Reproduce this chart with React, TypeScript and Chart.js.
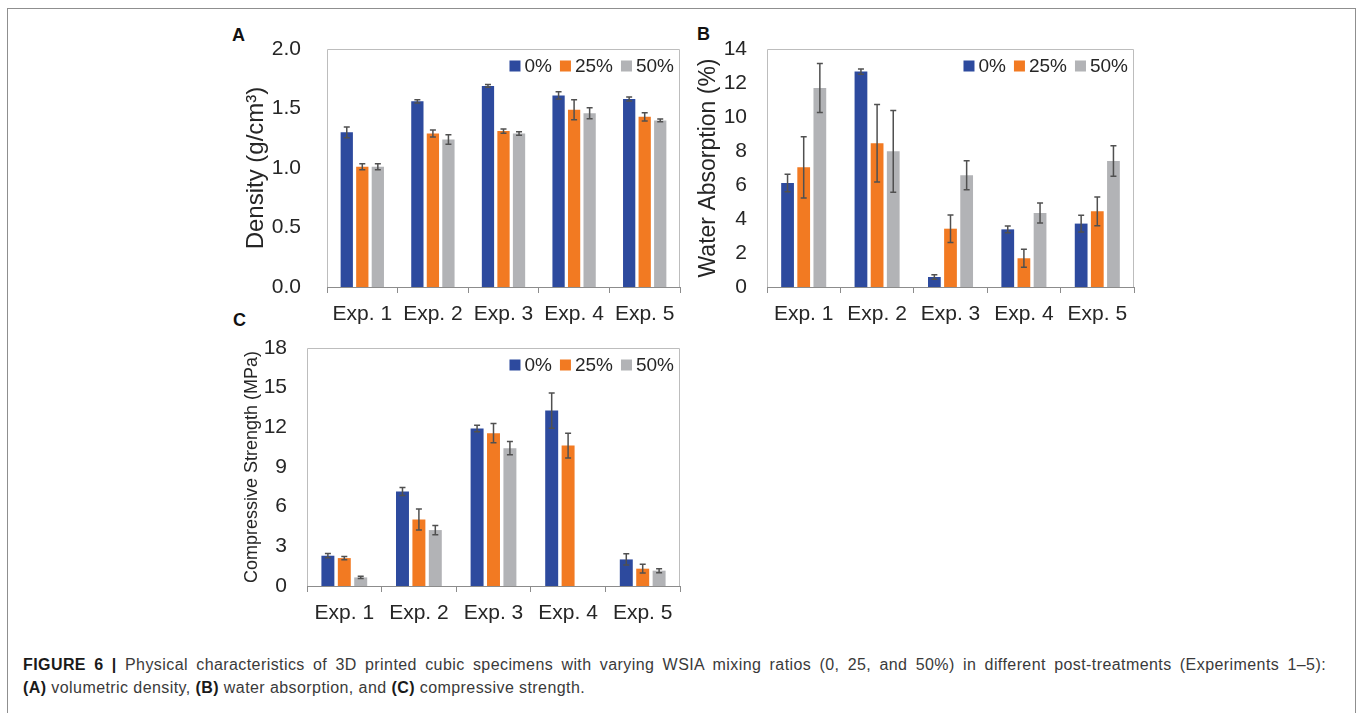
import React, { useEffect, useRef } from "react";
import { Chart, registerables } from "chart.js";

Chart.register(...registerables);

const FONT = "Arial, 'Liberation Sans', Helvetica, sans-serif";

// ---------- data ----------
const categories = ["Exp. 1", "Exp. 2", "Exp. 3", "Exp. 4", "Exp. 5"];
const seriesLabels = ["0%", "25%", "50%"];
const seriesColors = ["#2D4A9E", "#F27A22", "#B2B3B6"];

// (A) volumetric density (g/cm3)
const density0 = [1.3, 1.56, 1.69, 1.61, 1.58];
const density25 = [1.01, 1.29, 1.31, 1.49, 1.43];
const density50 = [1.01, 1.24, 1.29, 1.46, 1.4];
const densityErr0 = [0.045, 0.014, 0.012, 0.03, 0.017];
const densityErr25 = [0.025, 0.03, 0.018, 0.084, 0.034];
const densityErr50 = [0.025, 0.04, 0.014, 0.046, 0.011];
const densityMax = 2.0;
const densityStep = 0.5;

// (B) water absorption (%)
const water0 = [6.12, 12.67, 0.59, 3.39, 3.73];
const water25 = [7.04, 8.45, 3.43, 1.69, 4.45];
const water50 = [11.7, 7.98, 6.57, 4.35, 7.41];
const waterErr0 = [0.51, 0.16, 0.13, 0.2, 0.49];
const waterErr25 = [1.8, 2.28, 0.81, 0.53, 0.85];
const waterErr50 = [1.44, 2.4, 0.85, 0.59, 0.9];
const waterMax = 14;
const waterStep = 2;

// (C) compressive strength (MPa)
const strength0 = [2.29, 7.15, 11.91, 13.27, 2.01];
const strength25 = [2.11, 5.03, 11.56, 10.62, 1.31];
const strength50 = [0.65, 4.23, 10.42, null, 1.16];
const strengthErr0 = [0.16, 0.3, 0.25, 1.33, 0.42];
const strengthErr25 = [0.13, 0.79, 0.73, 0.93, 0.33];
const strengthErr50 = [0.09, 0.35, 0.5, null, 0.15];
const strengthMax = 18;
const strengthStep = 3;

// ---------- plugins ----------
const plotFramePlugin = {
  id: "plotFrame",
  beforeDatasetsDraw(chart: any) {
    const { ctx, chartArea: a } = chart;
    ctx.save();
    ctx.strokeStyle = "#BDBDBD";
    ctx.lineWidth = 1;
    ctx.beginPath();
    ctx.moveTo(a.left + 0.5, a.bottom);
    ctx.lineTo(a.left + 0.5, a.top + 0.5);
    ctx.lineTo(a.right - 0.5, a.top + 0.5);
    ctx.lineTo(a.right - 0.5, a.bottom);
    ctx.stroke();
    ctx.restore();
  },
};

const errorBarPlugin = {
  id: "errorBars",
  afterDatasetsDraw(chart: any) {
    const { ctx } = chart;
    const ys = chart.scales.y;
    ctx.save();
    ctx.strokeStyle = "#505050";
    ctx.lineWidth = 1.5;
    chart.data.datasets.forEach((ds: any, di: number) => {
      const meta = chart.getDatasetMeta(di);
      meta.data.forEach((bar: any, i: number) => {
        const v = ds.data[i];
        const e = ds.errors ? ds.errors[i] : null;
        if (v == null || e == null) return;
        const x = bar.x;
        const yt = ys.getPixelForValue(v + e);
        const yb = ys.getPixelForValue(v - e);
        ctx.beginPath();
        ctx.moveTo(x, yt);
        ctx.lineTo(x, yb);
        ctx.moveTo(x - 3, yt);
        ctx.lineTo(x + 3, yt);
        ctx.moveTo(x - 3, yb);
        ctx.lineTo(x + 3, yb);
        ctx.stroke();
      });
    });
    ctx.restore();
  },
};

const boxLegendPlugin = {
  id: "boxLegend",
  afterDraw(chart: any) {
    const { ctx, chartArea: a } = chart;
    const ds = chart.data.datasets;
    ctx.save();
    ctx.font = `19px ${FONT}`;
    ctx.textBaseline = "middle";
    ctx.textAlign = "left";
    const box = 11;
    const gapText = 4;
    const gapItem = 8;
    const widths = ds.map((d: any) => ctx.measureText(d.label).width);
    let total = gapItem * (ds.length - 1);
    widths.forEach((w: number) => (total += box + gapText + w));
    let x = a.right - 6 - total;
    const cy = a.top + 17;
    ds.forEach((d: any, i: number) => {
      ctx.fillStyle = d.backgroundColor;
      ctx.fillRect(x, cy - box / 2, box, box);
      x += box + gapText;
      ctx.fillStyle = "#262626";
      ctx.fillText(d.label, x, cy + 1);
      x += widths[i] + gapItem;
    });
    ctx.restore();
  },
};

// ---------- panel ----------
type PanelProps = {
  left: number;
  top: number;
  width: number;
  height: number;
  padTop: number;
  padRight: number;
  yWidth: number;
  xHeight: number;
  yTitle: string;
  yTitleSize: number;
  yTitlePad: number;
  yTickGap: number;
  yMax: number;
  yStep: number;
  decimals: number;
  values: (number | null)[][];
  errors: (number | null)[][];
};

function Panel(p: PanelProps) {
  const ref = useRef<HTMLCanvasElement>(null);
  useEffect(() => {
    const chart = new Chart(ref.current as HTMLCanvasElement, {
      type: "bar",
      data: {
        labels: categories,
        datasets: seriesLabels.map((label, i) => ({
          label,
          data: p.values[i],
          errors: p.errors[i],
          backgroundColor: seriesColors[i],
          borderWidth: 0,
          barPercentage: 0.79,
          categoryPercentage: 0.66,
        })) as any,
      },
      options: {
        responsive: false,
        animation: false,
        devicePixelRatio: 1,
        layout: { padding: { top: p.padTop, right: p.padRight, left: 0, bottom: 0 } },
        plugins: {
          legend: { display: false },
          tooltip: { enabled: false },
          title: { display: false },
        },
        scales: {
          x: {
            grid: {
              display: true,
              drawOnChartArea: false,
              drawTicks: true,
              tickLength: 6,
              color: "#8C8C8C",
              offset: true,
            },
            border: { display: true, color: "#8C8C8C", width: 1 },
            ticks: {
              font: { size: 21, family: FONT },
              color: "#262626",
              padding: 9,
              maxRotation: 0,
              autoSkip: false,
            },
            afterFit: (s: any) => {
              s.height = p.xHeight;
            },
          },
          y: {
            min: 0,
            max: p.yMax,
            grid: { display: false, drawTicks: true, tickLength: p.yTickGap - 2 },
            border: { display: false },
            ticks: {
              stepSize: p.yStep,
              font: { size: 21, family: FONT },
              color: "#262626",
              padding: 2,
              callback: (v: any) => Number(v).toFixed(p.decimals),
            },
            title: {
              display: true,
              text: p.yTitle,
              font: { size: p.yTitleSize, family: FONT },
              color: "#262626",
              padding: { top: p.yTitlePad, bottom: 0 },
            },
            afterFit: (s: any) => {
              s.width = p.yWidth;
            },
          },
        },
      } as any,
      plugins: [plotFramePlugin, errorBarPlugin, boxLegendPlugin],
    });
    return () => chart.destroy();
  }, []);
  return (
    <canvas
      ref={ref}
      width={p.width}
      height={p.height}
      style={{ position: "absolute", left: p.left, top: p.top, width: p.width, height: p.height }}
    />
  );
}

const letterStyle = (left: number, top: number): React.CSSProperties => ({
  position: "absolute",
  left,
  top,
  font: `bold 18px ${FONT}`,
  lineHeight: "18px",
  color: "#111",
});

const boldStyle: React.CSSProperties = { color: "#1a1a1a" };

export default function App() {
  return (
    <div
      style={{
        position: "absolute",
        left: 0,
        top: 0,
        width: 1360,
        height: 713,
        overflow: "hidden",
        background: "#fff",
        fontFamily: FONT,
      }}
    >
      <div
        style={{
          position: "absolute",
          left: 7,
          top: 8,
          width: 1349,
          height: 705,
          boxSizing: "border-box",
          borderTop: "1px solid #8f8f8f",
          borderLeft: "1px solid #8f8f8f",
          borderRight: "1px solid #8f8f8f",
        }}
      />
      <div style={letterStyle(232, 26)}>A</div>
      <div style={letterStyle(697, 25)}>B</div>
      <div style={letterStyle(233, 311)}>C</div>

      <Panel
        left={220}
        top={20}
        width={470}
        height={310}
        padTop={29}
        padRight={10}
        yWidth={107}
        xHeight={43}
        yTitle="Density (g/cm³)"
        yTitleSize={24}
        yTitlePad={22}
        yTickGap={26}
        yMax={densityMax}
        yStep={densityStep}
        decimals={1}
        values={[density0, density25, density50]}
        errors={[densityErr0, densityErr25, densityErr50]}
      />
      <Panel
        left={690}
        top={20}
        width={460}
        height={310}
        padTop={29}
        padRight={16}
        yWidth={77}
        xHeight={43}
        yTitle="Water Absorption (%)"
        yTitleSize={23}
        yTitlePad={5}
        yTickGap={20}
        yMax={waterMax}
        yStep={waterStep}
        decimals={0}
        values={[water0, water25, water50]}
        errors={[waterErr0, waterErr25, waterErr50]}
      />
      <Panel
        left={230}
        top={330}
        width={460}
        height={300}
        padTop={18}
        padRight={10}
        yWidth={77}
        xHeight={44}
        yTitle="Compressive Strength (MPa)"
        yTitleSize={18}
        yTitlePad={11}
        yTickGap={20}
        yMax={strengthMax}
        yStep={strengthStep}
        decimals={0}
        values={[strength0, strength25, strength50]}
        errors={[strengthErr0, strengthErr25, strengthErr50]}
      />

      <div
        style={{
          position: "absolute",
          left: 23,
          top: 654,
          width: 1303,
          font: `16px ${FONT}`,
          lineHeight: "22.6px",
          letterSpacing: "0.42px",
          color: "#3a3a3a",
        }}
      >
        <div style={{ textAlign: "justify", textAlignLast: "justify" as any, whiteSpace: "nowrap" }}>
          <b style={boldStyle}>FIGURE 6 |</b> Physical characteristics of 3D printed cubic specimens with varying WSIA
          mixing ratios (0, 25, and 50%) in different post-treatments (Experiments 1–5):
        </div>
        <div style={{ whiteSpace: "nowrap" }}>
          <b style={boldStyle}>(A)</b> volumetric density, <b style={boldStyle}>(B)</b> water absorption, and{" "}
          <b style={boldStyle}>(C)</b> compressive strength.
        </div>
      </div>
    </div>
  );
}
